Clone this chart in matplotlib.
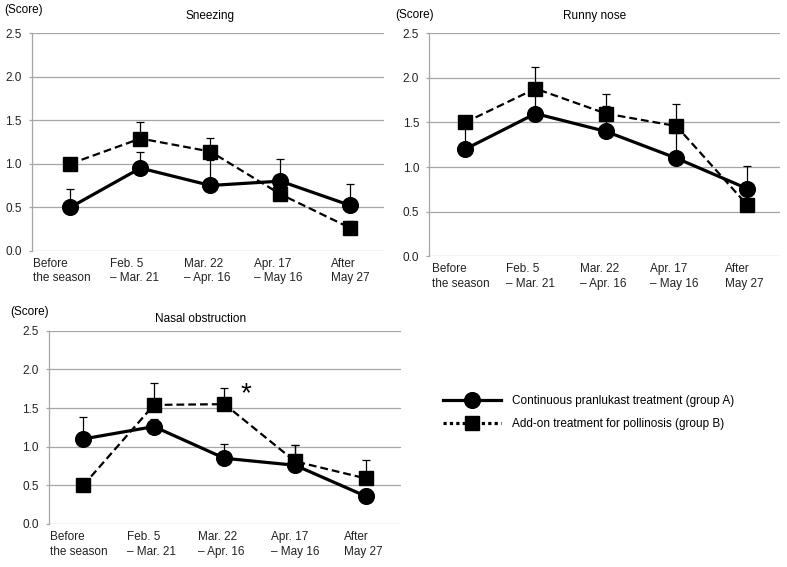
import matplotlib
matplotlib.use("Agg")
import matplotlib.pyplot as plt
from matplotlib.lines import Line2D
import numpy as np

plt.rcParams['font.family'] = ['Liberation Sans', 'DejaVu Sans']

categories = ["Before\nthe season", "Feb. 5\n\u2013 Mar. 21", "Mar. 22\n\u2013 Apr. 16",
              "Apr. 17\n\u2013 May 16", "After\nMay 27"]
yticks = [0.0, 0.5, 1.0, 1.5, 2.0, 2.5]

# Sneezing
sneeze_A = [0.50, 0.95, 0.75, 0.80, 0.52]
sneeze_A_err = [0.21, 0.19, 0.29, 0.25, 0.25]
sneeze_B = [1.00, 1.29, 1.14, 0.65, 0.26]
sneeze_B_err = [0.05, 0.19, 0.16, 0.05, 0.08]

# Runny nose
runny_A = [1.20, 1.60, 1.40, 1.10, 0.76]
runny_A_err = [0.25, 0.25, 0.29, 0.28, 0.25]
runny_B = [1.50, 1.88, 1.60, 1.46, 0.58]
runny_B_err = [0.05, 0.24, 0.22, 0.25, 0.05]

# Nasal obstruction
nasal_A = [1.10, 1.26, 0.85, 0.76, 0.36]
nasal_A_err = [0.29, 0.10, 0.19, 0.26, 0.09]
nasal_B = [0.50, 1.54, 1.55, 0.81, 0.59]
nasal_B_err = [0.04, 0.29, 0.21, 0.21, 0.24]

label_A = "Continuous pranlukast treatment (group A)"
label_B = "Add-on treatment for pollinosis (group B)"

W, H = 787, 567
fig = plt.figure(figsize=(W / 100, H / 100), dpi=100)

def px(x0, y0, x1, y1):
    return [x0 / W, 1 - y1 / H, (x1 - x0) / W, (y1 - y0) / H]

# (title, A, Aerr, B, Berr, rect, xlim, title pos, score pos, label px offsets)
panels = [
    ("Sneezing", sneeze_A, sneeze_A_err, sneeze_B, sneeze_B_err,
     px(32, 33.3, 384, 250.7), (-0.55, 4.48), (210, 16), (4, 10), [-9, -6, -3, -2, 0]),
    ("Runny nose", runny_A, runny_A_err, runny_B, runny_B_err,
     px(429.3, 33.3, 780, 256.3), (-0.507, 4.47), (595, 16), (395, 15), [-4.5, -4.5, -3, -2, -3]),
    ("Nasal obstruction", nasal_A, nasal_A_err, nasal_B, nasal_B_err,
     px(49, 330.7, 400.7, 524), (-0.486, 4.496), (201, 319), (10, 312), [-4, -2.5, -3.5, 0, -2]),
]

grid_col = "#a6a6a6"
axes = []
for title, A, Ae, B, Be, rect, xl, tpos, spos, offs in panels:
    ax = fig.add_axes(rect)
    x = np.arange(len(categories))
    ax.errorbar(x, A, yerr=[np.zeros(len(A)), Ae], fmt='none', ecolor='black',
                elinewidth=0.9, capsize=2.6, capthick=0.9, zorder=2)
    ax.errorbar(x, B, yerr=[np.zeros(len(B)), Be], fmt='none', ecolor='black',
                elinewidth=0.9, capsize=2.6, capthick=0.9, zorder=2)
    ax.plot(x, B, color='black', lw=1.6, ls=(0, (3.5, 1.8)), marker='s', markersize=9.5,
            zorder=3)
    ax.plot(x, A, color='black', lw=2.3, ls='-', marker='o', markersize=11.3, zorder=4)
    ax.set_xlim(*xl)
    ax.set_ylim(0, 2.5)
    ax.set_yticks(yticks)
    ax.set_yticklabels([f"{v:.1f}" for v in yticks], fontsize=8.5, color='#222222')
    # category label positions, nudged by a few pixels as in the original layout
    ax_w_px = rect[2] * W
    unit_px = ax_w_px / (xl[1] - xl[0])
    ax.set_xticks(x + np.array(offs) / unit_px)
    ax.set_xticklabels(categories, fontsize=8.5, color='#222222', ha='center',
                       multialignment='left', linespacing=1.3)
    ax.tick_params(axis='x', length=0, pad=5)
    ax.tick_params(axis='y', length=2.2, width=0.9, color=grid_col, pad=5)
    ax.yaxis.grid(True, color=grid_col, lw=0.9)
    ax.set_axisbelow(True)
    for s in ['top', 'right', 'bottom']:
        ax.spines[s].set_visible(False)
    ax.spines['left'].set_color(grid_col)
    ax.spines['left'].set_linewidth(0.9)
    fig.text(tpos[0] / W, 1 - tpos[1] / H, title, ha='center', va='center', fontsize=8.5)
    fig.text(spos[0] / W, 1 - spos[1] / H, "(Score)", ha='left', va='center', fontsize=8.5)
    axes.append(ax)

# significance asterisk
axes[2].text(2.3, 1.59, "*", ha='center', va='baseline', fontsize=20)

handles = [
    Line2D([0], [0], color='black', lw=2.3, ls='-', marker='o', markersize=11.3),
    Line2D([0], [0], color='black', lw=2.3, ls=(0, (1, 1)), marker='s', markersize=9.5),
]
fig.legend(handles, [label_A, label_B], loc='upper left',
           bbox_to_anchor=(437 / W, 1 - 389 / H), frameon=False, fontsize=8.5,
           handlelength=4.9, handletextpad=0.93, labelspacing=0.97, borderpad=0)

fig.savefig("out.png", dpi=100)
